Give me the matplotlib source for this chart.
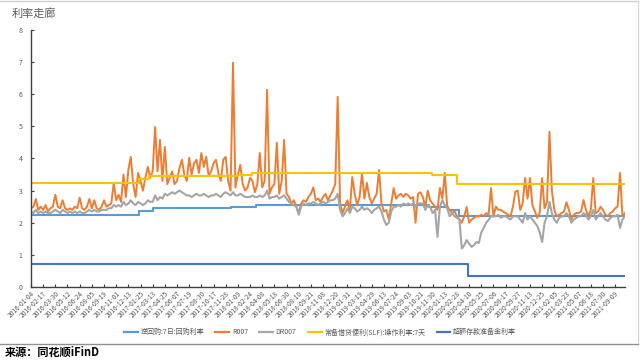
import numpy as np
import matplotlib
matplotlib.use("Agg")
import matplotlib.pyplot as plt
from matplotlib.lines import Line2D

plt.rcParams['font.family'] = ['Noto Sans CJK SC', 'DejaVu Sans']

# 横轴标签（每30个交易日一个）
tick_labels = [
    "2016-01-04", "2016-02-17", "2016-03-30", "2016-05-12", "2016-06-24", "2016-08-05",
    "2016-09-19", "2016-11-01", "2016-12-13", "2017-01-25", "2017-03-13", "2017-04-25",
    "2017-06-07", "2017-07-19", "2017-08-30", "2017-10-17", "2017-11-28", "2018-01-09",
    "2018-02-24", "2018-04-08", "2018-05-18", "2018-06-30", "2018-08-10", "2018-09-21",
    "2018-11-08", "2018-12-20", "2019-01-31", "2019-03-19", "2019-04-29", "2019-06-13",
    "2019-07-24", "2019-09-03", "2019-10-21", "2019-11-30", "2020-01-13", "2020-02-28",
    "2020-04-10", "2020-05-25", "2020-07-06", "2020-08-17", "2020-09-27", "2020-11-13",
    "2020-12-25", "2021-02-05", "2021-03-23", "2021-05-07", "2021-06-18", "2021-07-30",
    "2021-09-09",
]
label_every = 30
n_days = 1465
sample_step = 6

# R007 / DR007，每6个交易日取一个读数
r007 = [
    2.45, 2.5, 2.74, 2.4, 2.5,   2.4, 2.55, 2.35, 2.45, 2.5,
    2.87, 2.5, 2.45, 2.7, 2.45,  2.4, 2.45, 2.4, 2.5, 2.45,
    2.78, 2.45, 2.4, 2.5, 2.74,  2.45, 2.7, 2.45, 2.4, 2.5,
    2.7, 2.5, 2.55, 2.6, 3.24,   2.7, 2.87, 2.65, 3.49, 2.8,
    3.64, 4.05, 3.2, 2.8, 3.55,  3.3, 3.0, 3.4, 3.74, 3.4,
    3.6, 4.98, 3.6, 4.58, 3.3,   4.36, 3.2, 3.4, 3.6, 3.2,
    3.3, 3.7, 3.96, 3.5, 3.3,    4.02, 3.5, 3.85, 3.96, 3.55,
    4.17, 3.74, 4.05, 3.45, 3.6, 3.85, 3.96, 3.55, 3.3, 3.96,
    4.05, 3.3, 3.0, 6.98, 3.1,   3.5, 3.8, 3.2, 3.0, 3.1,
    3.4, 3.3, 2.95, 3.2, 4.17,   3.1, 3.3, 6.14, 2.9, 3.1,
    3.2, 4.49, 2.9, 3.3, 4.58,   2.9, 2.8, 2.6, 2.7, 2.5,
    2.3, 2.6, 2.7, 2.65, 2.8,    2.9, 3.1, 2.7, 2.75, 2.65,
    2.8, 2.9, 2.7, 2.85, 3.0,    3.2, 5.92, 2.6, 2.3, 2.5,
    2.7, 2.4, 3.42, 2.9, 2.55,   2.8, 3.55, 2.75, 3.24, 2.8,
    2.6, 2.75, 2.9, 3.64, 2.6,   2.35, 2.4, 2.1, 2.6, 3.08,
    2.75, 2.85, 2.9, 2.8, 2.9,   2.85, 2.75, 2.8, 2.0, 2.9,
    2.95, 2.8, 2.5, 3.0, 2.7,    2.6, 2.5, 2.4, 3.08, 2.75,
    3.55, 2.5, 2.4, 2.3, 2.36,   2.2, 2.1, 2.0, 2.2, 2.49,
    2.0, 2.1, 2.15, 2.2, 2.2,    2.25, 2.2, 2.3, 2.25, 3.08,
    2.2, 2.5, 2.4, 2.4, 2.35,    2.3, 2.25, 2.2, 2.5, 2.97,
    3.0, 2.4, 2.6, 3.39, 2.75,   3.39, 2.55, 2.36, 2.15, 2.3,
    3.39, 2.45, 2.65, 4.83, 3.0, 2.4, 2.2, 2.25, 2.3, 2.35,
    2.64, 2.4, 2.1, 2.25, 2.3,   2.3, 2.35, 2.71, 2.4, 2.2,
    2.4, 3.39, 2.3, 2.35, 2.5,   2.4, 2.25, 2.2, 2.3, 2.35,
    2.45, 2.5, 3.55, 2.2, 2.3,
]
dr007 = [
    2.35, 2.3, 2.4, 2.3, 2.35,   2.3, 2.35, 2.3, 2.3, 2.35,
    2.4, 2.35, 2.3, 2.4, 2.35,   2.3, 2.35, 2.3, 2.35, 2.3,
    2.35, 2.3, 2.3, 2.35, 2.4,   2.35, 2.4, 2.35, 2.35, 2.4,
    2.4, 2.4, 2.45, 2.45, 2.55,  2.5, 2.55, 2.5, 2.65, 2.55,
    2.6, 2.7, 2.6, 2.55, 2.65,   2.6, 2.55, 2.6, 2.7, 2.65,
    2.65, 2.85, 2.7, 2.8, 2.75,  2.9, 2.85, 2.9, 2.95, 2.9,
    2.95, 3.0, 2.95, 2.9, 2.85,  2.85, 2.8, 2.85, 2.9, 2.85,
    2.85, 2.9, 2.85, 2.8, 2.85,  2.85, 2.9, 2.85, 2.8, 2.9,
    2.95, 2.9, 2.85, 2.95, 2.85, 2.85, 2.9, 2.85, 2.8, 2.8,
    2.8, 2.85, 2.8, 2.8, 2.85,   2.8, 2.85, 3.0, 2.75, 2.8,
    2.8, 2.85, 2.75, 2.8, 2.85,  2.75, 2.65, 2.6, 2.55, 2.5,
    2.25, 2.5, 2.6, 2.55, 2.6,   2.6, 2.65, 2.6, 2.55, 2.6,
    2.65, 2.6, 2.65, 2.7, 2.7,   2.75, 2.9, 2.4, 2.2, 2.3,
    2.45, 2.3, 2.5, 2.45, 2.35,  2.4, 2.5, 2.4, 2.45, 2.4,
    2.3, 2.4, 2.45, 2.5, 2.35,   2.1, 1.93, 2.0, 2.35, 2.5,
    2.5, 2.55, 2.5, 2.6, 2.55,   2.6, 2.55, 2.6, 2.5, 2.6,
    2.6, 2.6, 2.4, 2.55, 2.5,    2.3, 2.4, 1.56, 2.5, 2.7,
    2.55, 2.45, 2.2, 2.3, 2.2,   2.15, 2.1, 1.2, 1.3, 1.46,
    1.35, 1.25, 1.3, 1.4, 1.37,  1.7, 1.84, 2.0, 2.09, 2.2,
    2.2, 2.2, 2.25, 2.15, 2.2,   2.2, 2.15, 2.1, 2.2, 2.2,
    2.2, 2.1, 2.0, 2.3, 2.1,     2.2, 2.1, 2.0, 1.9, 1.7,
    1.4, 2.0, 2.2, 2.65, 2.3,    2.1, 2.0, 2.15, 2.2, 2.2,
    2.3, 2.2, 2.0, 2.1, 2.15,    2.2, 2.2, 2.3, 2.25, 2.1,
    2.2, 2.4, 2.1, 2.2, 2.3,     2.2, 2.1, 2.05, 2.15, 2.2,
    2.2, 2.25, 1.84, 2.1, 2.2,
]

# 阶梯型政策利率：起始交易日序号 + 利率
repo_start = [0, 266, 302, 493, 555, 982, 1028, 1055]
repo_rate = [2.25, 2.35, 2.45, 2.5, 2.55, 2.5, 2.4, 2.2]
slf_start = [0, 266, 290, 508, 545, 989, 1050]
slf_rate = [3.25, 3.35, 3.45, 3.5, 3.55, 3.5, 3.2]
excess_start = [0, 1078]
excess_rate = [0.72, 0.35]

names = ["逆回购:7日:回购利率", "R007", "DR007", "常备借贷便利(SLF):操作利率:7天", "超额存款准备金利率"]
colors = ["#5B9BD5", "#ED7D31", "#A5A5A5", "#FFC000", "#4472C4"]


def step_xy(starts, rates):
    x = list(starts) + [n_days - 1]
    y = list(rates) + [rates[-1]]
    return x, y


fig = plt.figure(figsize=(6.4, 3.61), dpi=100)
ax = fig.add_axes([0.0484, 0.205, 0.928, 0.712])

xs = np.arange(len(r007)) * sample_step
x, y = step_xy(repo_start, repo_rate)
ax.plot(x, y, drawstyle='steps-post', color=colors[0], lw=1.5)
ax.plot(xs, r007, color=colors[1], lw=1.4)
ax.plot(xs, dr007, color=colors[2], lw=1.5)
x, y = step_xy(slf_start, slf_rate)
ax.plot(x, y, drawstyle='steps-post', color=colors[3], lw=1.5)
x, y = step_xy(excess_start, excess_rate)
ax.plot(x, y, drawstyle='steps-post', color=colors[4], lw=1.5)

ax.set_xlim(0, n_days - 1)
ax.set_ylim(0, 8)
ax.set_yticks(range(0, 9))
ax.set_xticks(np.arange(len(tick_labels)) * label_every)
ax.set_xticklabels(tick_labels, rotation=45, ha='right', rotation_mode='anchor')
ax.tick_params(axis='x', direction='in', length=2.5, width=0.8, color='#404040',
               labelsize=4.8, labelcolor='#595959', pad=2)
ax.tick_params(axis='y', direction='in', length=2.5, width=0.8, color='#404040',
               labelsize=5, labelcolor='#595959', pad=6)
for s in ['top', 'right']:
    ax.spines[s].set_visible(False)
for s in ['left', 'bottom']:
    ax.spines[s].set_color('#404040')
    ax.spines[s].set_linewidth(1.0)

handles = [Line2D([], [], color=c, lw=1.6) for c in colors]
fig.legend(handles, names, loc='center', bbox_to_anchor=(0.5, 0.08), ncol=5,
           frameon=False, fontsize=5, handlelength=2.0, handletextpad=0.4,
           columnspacing=1.6, labelcolor='#595959')

fig.text(12 / 640, 1 - 13 / 361, "利率走廊", fontsize=8, color='#595959', va='center')
fig.text(5 / 640, 1 - 352 / 361, "来源：同花顺iFinD", fontsize=8, fontweight='bold',
         color='#000000', va='center')

# 图表边框
fig.add_artist(Line2D([0, 638 / 640], [1 - 1 / 361, 1 - 1 / 361], color='#D0D0D0', lw=1))
fig.add_artist(Line2D([638 / 640, 638 / 640], [1 - 1 / 361, 1 - 344 / 361], color='#D9D9D9', lw=1))
fig.add_artist(Line2D([0, 638 / 640], [1 - 344 / 361, 1 - 344 / 361], color='#909090', lw=1))

fig.savefig("out.png", dpi=100)
